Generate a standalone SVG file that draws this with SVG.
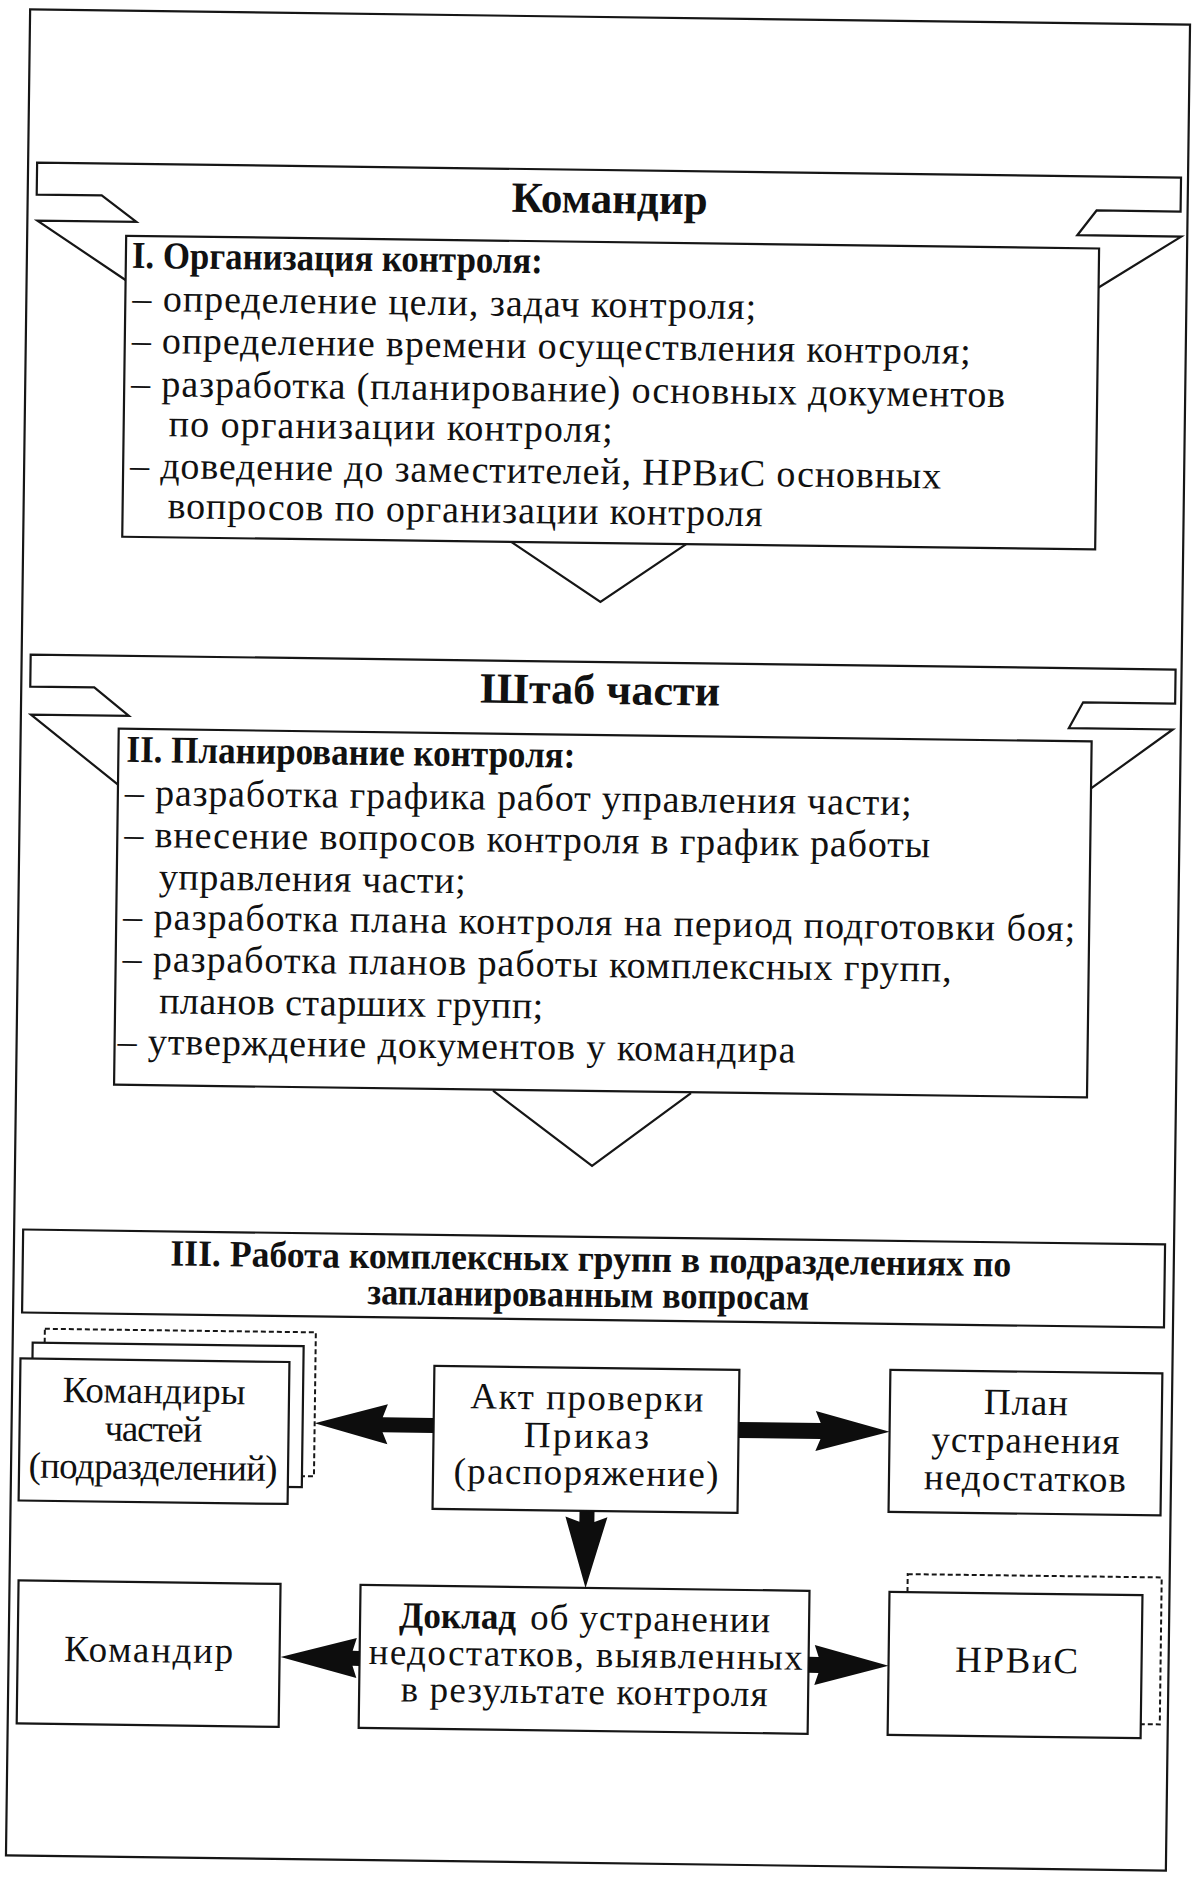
<svg xmlns="http://www.w3.org/2000/svg" width="1203" height="1879" viewBox="0 0 1203 1879">
<style>
.ln{fill:none;stroke:#161616;stroke-width:2.2;stroke-linejoin:miter}
.bx{fill:#fff;stroke:#161616;stroke-width:2.2}
.ds{fill:#fff;stroke:#161616;stroke-width:2;stroke-dasharray:5 3}
.ar{fill:#0d0d0d;stroke:none}
text{font-family:"Liberation Serif","Times New Roman",serif;fill:#111}
.t{font-size:38px}
.b{font-weight:bold}
.ttl{font-size:43px;font-weight:bold}
.n{font-size:37px;text-anchor:middle}
.c{text-anchor:middle}
</style>
<rect x="0" y="0" width="1203" height="1879" fill="#fff"/>
<g transform="rotate(0.75 598 940)">
<g id="frame"><rect class="ln" x="18" y="17" width="1160" height="1846" stroke-width="2.6"/></g>

<g id="komandir-banner">
<polyline class="ln" points="118,287 28,228 127,228 92,202 27,202 27,170 1171,170 1171,204 1087,204 1068,229 1172,229 1090,281"/>
<text class="ttl c" x="600" y="213" textLength="196" lengthAdjust="spacingAndGlyphs">Командир</text>
</g>

<g id="org-box">
<rect class="bx" x="117" y="242" width="973" height="301"/>
<text class="t b" x="123" y="274" textLength="411" lengthAdjust="spacingAndGlyphs">I. Организация контроля:</text>
<text class="t" x="124" y="317" textLength="624" lengthAdjust="spacing">– определение цели, задач контроля;</text>
<text class="t" x="124" y="359" textLength="839" lengthAdjust="spacing">– определение времени осуществления контроля;</text>
<text class="t" x="124" y="402" textLength="874" lengthAdjust="spacing">– разработка (планирование) основных документов</text>
<text class="t" x="162" y="442" textLength="444" lengthAdjust="spacing">по организации контроля;</text>
<text class="t" x="124" y="484" textLength="811" lengthAdjust="spacing">– доведение до заместителей, НРВиС основных</text>
<text class="t" x="162" y="524" textLength="595" lengthAdjust="spacing">вопросов по организации контроля</text>
</g>

<g id="shtab-banner">
<polyline class="ln" points="116,791 28,722 126,722 91,694 27,694 27,662 1172,662 1172,696 1080,696 1066,722 1170,722 1089,782"/>
<text class="ttl c" x="597" y="704" textLength="240" lengthAdjust="spacingAndGlyphs">Штаб части</text>
</g>

<g id="plan-box">
<rect class="bx" x="116" y="735" width="973" height="356"/>
<text class="t b" x="124" y="768" textLength="449" lengthAdjust="spacingAndGlyphs">II. Планирование контроля:</text>
<text class="t" x="123" y="811" textLength="787" lengthAdjust="spacing">– разработка графика работ управления части;</text>
<text class="t" x="123" y="853" textLength="806" lengthAdjust="spacing">– внесение вопросов контроля в график работы</text>
<text class="t" x="158" y="895" textLength="307" lengthAdjust="spacing">управления части;</text>
<text class="t" x="123" y="935" textLength="952" lengthAdjust="spacing">– разработка плана контроля на период подготовки боя;</text>
<text class="t" x="123" y="977" textLength="829" lengthAdjust="spacing">– разработка планов работы комплексных групп,</text>
<text class="t" x="160" y="1019" textLength="384" lengthAdjust="spacing">планов старших групп;</text>
<text class="t" x="119" y="1060" textLength="678" lengthAdjust="spacing">– утверждение документов у командира</text>
</g>

<g id="work-box">
<rect class="bx" x="27" y="1237" width="1142" height="83"/>
<text class="c b" font-size="37" x="595" y="1271" textLength="841" lengthAdjust="spacingAndGlyphs">III. Работа комплексных групп в подразделениях по</text>
<text class="c b" font-size="37" x="593" y="1307" textLength="442" lengthAdjust="spacingAndGlyphs">запланированным вопросам</text>
</g>

<g id="commanders-units">
<rect class="ds" x="50" y="1336" width="271" height="144"/>
<rect class="bx" x="38" y="1350" width="271" height="141"/>
<rect class="bx" x="26" y="1366" width="269" height="142"/>
<text class="n" x="160" y="1409" textLength="183" lengthAdjust="spacing">Командиры</text>
<text class="n" x="160" y="1447" textLength="98" lengthAdjust="spacing">частей</text>
<text class="n" x="160" y="1485" textLength="249" lengthAdjust="spacing">(подразделений)</text>
</g>

<g id="act-order">
<rect class="bx" x="440" y="1368" width="305" height="143"/>
<text class="n" x="593" y="1410" textLength="233" lengthAdjust="spacing">Акт проверки</text>
<text class="n" x="593" y="1448" textLength="125" lengthAdjust="spacing">Приказ</text>
<text class="n" x="593" y="1485" textLength="265" lengthAdjust="spacing">(распоряжение)</text>
</g>

<g id="elimination-plan">
<rect class="bx" x="896" y="1366" width="272" height="142"/>
<text class="n" x="1032" y="1409" textLength="84" lengthAdjust="spacing">План</text>
<text class="n" x="1032" y="1447" textLength="188" lengthAdjust="spacing">устранения</text>
<text class="n" x="1032" y="1485" textLength="202" lengthAdjust="spacing">недостатков</text>
</g>

<g id="commander">
<rect class="bx" x="27" y="1588" width="262" height="143"/>
<text class="n" x="158" y="1668" textLength="169" lengthAdjust="spacing">Командир</text>
</g>

<g id="report">
<rect class="bx" x="369" y="1588" width="449" height="143"/>
<text font-size="37" font-weight="bold" x="408" y="1630" textLength="117" lengthAdjust="spacingAndGlyphs">Доклад</text>
<text font-size="37" x="539" y="1630" textLength="240" lengthAdjust="spacing">об устранении</text>
<text class="n" x="595" y="1667" textLength="434" lengthAdjust="spacing">недостатков, выявленных</text>
<text class="n" x="594" y="1704" textLength="367" lengthAdjust="spacing">в результате контроля</text>
</g>

<g id="nrvis">
<rect class="ds" x="916" y="1570" width="254" height="147"/>
<rect class="bx" x="898" y="1588" width="253" height="143"/>
<text class="n" x="1026" y="1667" textLength="123" lengthAdjust="spacing">НРВиС</text>
</g>

<g id="connectors">
<polyline class="ln" points="506,543 596,602 681,543"/>
<polyline class="ln" points="495,1092 595,1166 693,1092"/>
<polygon class="ar" points="321,1427 394,1407 389,1420 440,1420 440,1435 389,1435 394,1447"/>
<polygon class="ar" points="745,1420 827,1420 822,1408 896,1428 822,1448 827,1436 745,1436"/>
<polygon class="ar" points="587,1511 602,1511 602,1522 615,1517 594,1588 573,1517 587,1522"/>
<polygon class="ar" points="290,1661 366,1641 362,1654 369,1654 369,1669 362,1669 366,1681"/>
<polygon class="ar" points="818,1654 828,1654 824,1642 898,1662 824,1682 828,1670 818,1670"/>
</g>
</g>
</svg>
